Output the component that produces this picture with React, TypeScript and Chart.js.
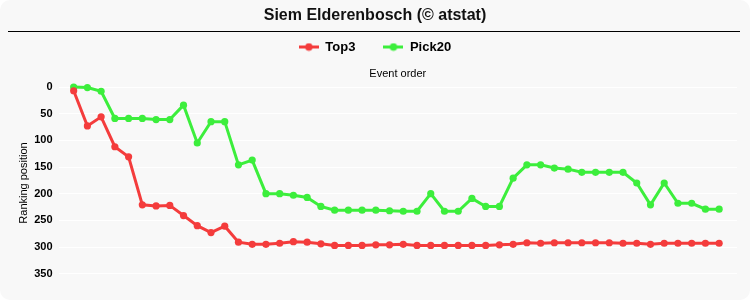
import { useEffect, useRef } from 'react';
import { Chart, registerables } from 'chart.js';

Chart.register(...registerables);

const chartTitle = 'Siem Elderenbosch (© atstat)';
const xAxisTitle = 'Event order';
const yAxisTitle = 'Ranking position';

const eventOrder = [
  1, 2, 3, 4, 5, 6, 7, 8, 9, 10, 11, 12, 13, 14, 15, 16, 17, 18, 19, 20, 21, 22, 23, 24,
  25, 26, 27, 28, 29, 30, 31, 32, 33, 34, 35, 36, 37, 38, 39, 40, 41, 42, 43, 44, 45, 46, 47, 48,
];

const top3 = [
  7, 73, 56, 112, 131, 221, 223, 222, 241, 260, 273, 261, 291, 295, 295, 293, 290, 291, 294, 297,
  297, 297, 296, 296, 295, 297, 297, 297, 297, 297, 297, 296, 295, 292, 293, 292, 292, 292, 292, 292,
  293, 293, 295, 293, 293, 293, 293, 293,
];

const pick20 = [
  0, 1, 8, 59, 59, 59, 61, 61, 34, 105, 65, 65, 146, 137, 200, 200, 203, 207, 224, 231,
  231, 231, 231, 232, 233, 233, 200, 233, 233, 209, 224, 224, 171, 146, 146, 152, 154, 160, 160, 160,
  160, 180, 221, 180, 218, 218, 229, 229,
];

const seriesNames = ['Top3', 'Pick20'];
const seriesColors = ['#f43c3c', '#3cee3c'];

const yMin = 0;
const yMax = 360;
const yStep = 50;
const xMin = -0.1;
const xMax = 49.3;

const FONT = "'Liberation Sans', Arial, sans-serif";

function legendIcon(color: string): HTMLCanvasElement {
  const c = document.createElement('canvas');
  c.width = 20;
  c.height = 9;
  const ctx = c.getContext('2d')!;
  ctx.strokeStyle = color;
  ctx.lineWidth = 3;
  ctx.beginPath();
  ctx.moveTo(0, 4.5);
  ctx.lineTo(20, 4.5);
  ctx.stroke();
  ctx.fillStyle = color;
  ctx.beginPath();
  ctx.arc(10, 4.5, 3.8, 0, Math.PI * 2);
  ctx.fill();
  return c;
}

const separatorPlugin = {
  id: 'titleSeparator',
  afterDraw(chart: any) {
    const ctx = chart.ctx;
    ctx.save();
    ctx.strokeStyle = '#000';
    ctx.lineWidth = 1.2;
    ctx.beginPath();
    ctx.moveTo(8, 31.5);
    ctx.lineTo(chart.width - 10, 31.5);
    ctx.stroke();
    ctx.restore();
  },
};

export default function App() {
  const canvasRef = useRef<HTMLCanvasElement | null>(null);

  useEffect(() => {
    if (!canvasRef.current) return;
    const series = [top3, pick20];
    const chart = new Chart(canvasRef.current, {
      type: 'line',
      data: {
        datasets: series.map((vals, i) => ({
          label: seriesNames[i],
          data: vals.map((v, j) => ({ x: eventOrder[j], y: v })),
          borderColor: seriesColors[i],
          backgroundColor: seriesColors[i],
          pointBackgroundColor: seriesColors[i],
          pointBorderColor: seriesColors[i],
          borderWidth: 3,
          pointRadius: 3.6,
          pointBorderWidth: 0,
          tension: 0,
          clip: false as any,
        })),
      },
      options: {
        animation: false,
        responsive: false,
        maintainAspectRatio: false,
        layout: { padding: { left: 13, right: 13, top: 0, bottom: 21 } },
        plugins: {
          title: {
            display: true,
            text: chartTitle,
            color: '#111',
            font: { family: FONT, size: 16, weight: 'bold' },
            padding: { top: 6, bottom: -12.7 },
          },
          legend: {
            display: true,
            position: 'top',
            labels: {
              usePointStyle: true,
              pointStyleWidth: 20,
              padding: 28,
              color: '#000',
              font: { family: FONT, size: 13, weight: 'bold' },
              generateLabels: (ch: any) =>
                ch.data.datasets.map((ds: any, i: number) => ({
                  text: ds.label,
                  fillStyle: seriesColors[i],
                  strokeStyle: seriesColors[i],
                  lineWidth: 0,
                  pointStyle: legendIcon(seriesColors[i]),
                  hidden: false,
                  datasetIndex: i,
                  fontColor: '#000',
                })),
            },
          },
          tooltip: { enabled: false },
        },
        scales: {
          x: {
            type: 'linear',
            position: 'top',
            min: xMin,
            max: xMax,
            grid: { display: false, drawTicks: false },
            border: { display: false },
            ticks: { display: false },
            title: {
              display: true,
              text: xAxisTitle,
              color: '#000',
              font: { family: FONT, size: 11 },
              padding: { top: 4, bottom: 6.3 },
            },
          },
          y: {
            type: 'linear',
            reverse: true,
            min: yMin,
            max: yMax,
            grid: { color: '#ffffff', lineWidth: 1, drawTicks: false },
            border: { display: false },
            ticks: {
              stepSize: yStep,
              includeBounds: false,
              padding: 6,
              color: '#000',
              font: { family: FONT, size: 11, weight: 'bold' },
            },
            title: {
              display: true,
              text: yAxisTitle,
              color: '#000',
              font: { family: FONT, size: 11 },
              padding: { top: 4, bottom: -2 },
            },
          },
        },
      },
      plugins: [separatorPlugin],
    });
    return () => chart.destroy();
  }, []);

  return (
    <div
      style={{
        position: 'fixed',
        left: 0,
        top: 0,
        width: 750,
        height: 300,
        background: '#f8f8f8',
        borderRadius: 10,
        overflow: 'hidden',
      }}
    >
      <canvas ref={canvasRef} width={750} height={300} style={{ display: 'block', width: 750, height: 300 }} />
    </div>
  );
}
